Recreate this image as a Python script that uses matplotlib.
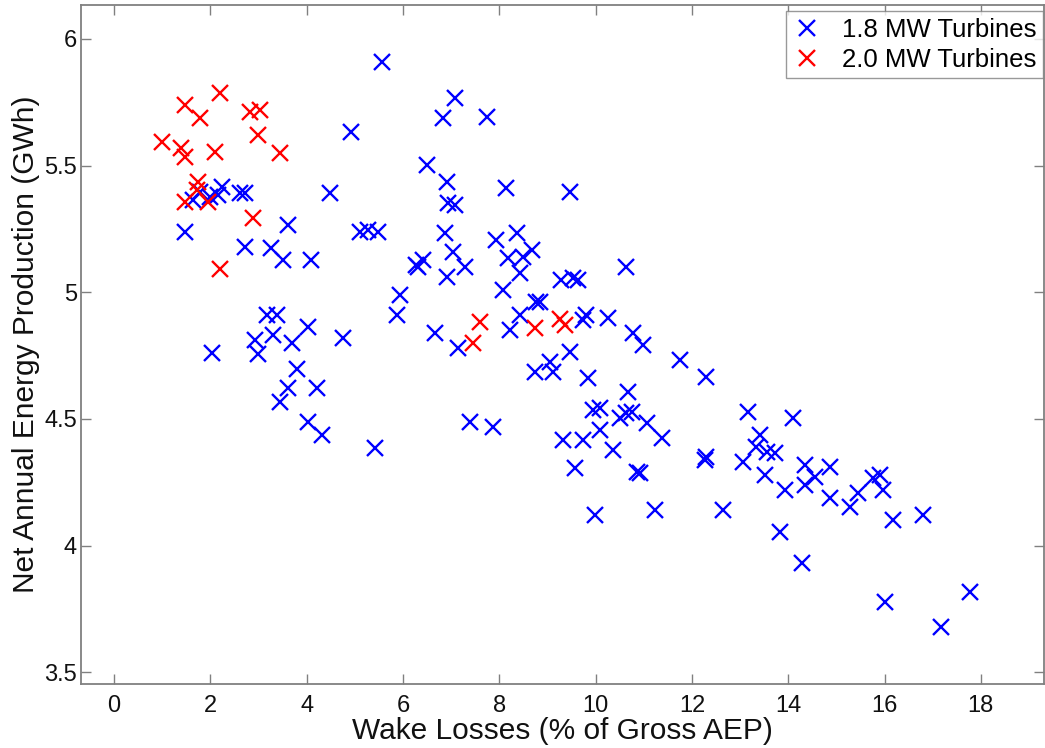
import matplotlib
matplotlib.use("Agg")
import matplotlib.pyplot as plt

# 1.8 MW turbines: wake losses (% of gross AEP), net AEP (GWh)
x18 = [5.56, 4.93, 1.47, 1.65, 1.79, 1.99, 2.17, 2.24, 2.62, 2.72, 4.48, 2.72, 3.27,
       3.62, 3.51, 4.10, 5.11, 5.28, 5.49, 5.94, 5.87, 6.28, 3.17, 3.38, 3.31,
       4.03, 4.76, 2.93, 3.69, 3.00, 2.03, 3.79, 3.62, 4.21, 3.45, 4.03, 4.31, 5.42,
       7.08, 6.84, 7.74, 6.49, 6.91, 8.15, 9.47, 6.94, 7.08, 6.87, 7.94, 8.36, 7.04,
       8.67, 6.42, 6.32, 7.29, 8.19, 8.50, 6.91, 8.43, 8.08, 9.29, 9.54, 9.64, 10.64,
       6.66, 7.15, 8.22, 8.43, 8.77, 8.84, 9.74, 9.81, 10.26, 10.78, 10.99, 9.47, 11.75,
       8.74, 9.05, 9.12, 9.85, 12.30, 10.68, 9.95, 10.09, 10.50, 10.64, 10.75, 11.06,
       10.09, 9.33, 9.74, 11.37, 10.37, 7.39, 7.87, 9.57, 10.85, 10.92, 12.27, 12.30,
       13.06, 9.99, 11.23, 12.65, 13.17, 14.10, 13.41, 13.34, 13.55, 13.72, 13.51,
       13.93, 14.35, 14.35, 14.55, 14.86, 14.86, 15.28, 15.45, 15.76, 15.90, 15.97,
       16.18, 16.80, 13.83, 14.28, 16.00, 17.18, 17.77]
y18 = [5.910, 5.634, 5.239, 5.364, 5.397, 5.377, 5.384, 5.417, 5.391, 5.391, 5.391,
       5.180, 5.174, 5.266, 5.128, 5.128, 5.239, 5.246, 5.239, 4.989, 4.910, 5.108,
       4.910, 4.910, 4.831, 4.864, 4.818, 4.812, 4.799, 4.755, 4.759, 4.696,
       4.621, 4.621, 4.568, 4.489, 4.437, 4.384,
       5.766, 5.687, 5.693, 5.503, 5.437, 5.411, 5.397, 5.351, 5.345, 5.233, 5.207,
       5.233, 5.160, 5.167, 5.128, 5.101, 5.101, 5.134, 5.141, 5.062, 5.075, 5.009,
       5.049, 5.055, 5.049, 5.101, 4.838, 4.779, 4.851, 4.910, 4.963, 4.963, 4.891,
       4.910, 4.897, 4.838, 4.792, 4.766, 4.733, 4.687, 4.726, 4.687, 4.660, 4.667,
       4.608, 4.535, 4.542, 4.503, 4.522, 4.529, 4.483, 4.456, 4.417, 4.417, 4.424,
       4.377, 4.489, 4.469, 4.305, 4.292, 4.285, 4.338, 4.351, 4.331, 4.121, 4.141,
       4.141, 4.529, 4.503, 4.437, 4.390, 4.371, 4.364, 4.279, 4.220, 4.318, 4.239,
       4.272, 4.312, 4.187, 4.154, 4.207, 4.266, 4.279, 4.220, 4.101, 4.121, 4.055,
       3.930, 3.779, 3.680, 3.818]

# 2.0 MW turbines
x20 = [0.99, 1.47, 1.79, 2.20, 1.40, 1.47, 2.10, 2.82, 3.03, 3.00, 3.45, 1.75, 1.72,
       1.47, 1.96, 2.89, 2.20, 7.60, 7.46, 8.74, 9.26, 9.36]
y20 = [5.595, 5.739, 5.687, 5.786, 5.568, 5.535, 5.555, 5.713, 5.720, 5.621, 5.549,
       5.437, 5.404, 5.358, 5.358, 5.292, 5.091, 4.884, 4.801, 4.858, 4.893, 4.871]

labels = ["1.8 MW Turbines", "2.0 MW Turbines"]
xticks = [0, 2, 4, 6, 8, 10, 12, 14, 16, 18]
yticks = [3.5, 4, 4.5, 5, 5.5, 6]
yticklabels = ["3.5", "4", "4.5", "5", "5.5", "6"]

plt.rcParams['font.family'] = ['Liberation Sans', 'DejaVu Sans']

fig = plt.figure(figsize=(10.45, 7.48), dpi=100)
ax = fig.add_axes([0.0775, 0.0856, 0.9215, 0.9077])

ax.plot(x18, y18, linestyle='none', marker='x', color='#0000ff', markersize=12,
        markeredgewidth=1.7, label=labels[0])
ax.plot(x20, y20, linestyle='none', marker='x', color='#ff0000', markersize=12,
        markeredgewidth=1.7, label=labels[1])

ax.set_xlim(-0.685, 19.31)
ax.set_ylim(3.454, 6.134)
ax.set_xticks(xticks)
ax.set_yticks(yticks)
ax.set_yticklabels(yticklabels)

for s in ax.spines.values():
    s.set_color('#808080')
    s.set_linewidth(1.3)
ax.tick_params(direction='in', length=7.2, width=1, color='#808080',
               top=True, right=True, labelsize=17, labelcolor='#111111')
ax.tick_params(axis='x', pad=8)
ax.tick_params(axis='y', pad=3)

ax.set_xlabel("Wake Losses (% of Gross AEP)", fontsize=21.5, color='#111111', labelpad=0)
ax.set_ylabel("Net Annual Energy Production (GWh)", fontsize=21.5, color='#111111', labelpad=3)

leg = ax.legend(loc='upper right', bbox_to_anchor=(0.999, 0.991), borderaxespad=0,
                fontsize=18.5, frameon=True, fancybox=False, edgecolor='#808080',
                handlelength=1.2, handletextpad=0.75, borderpad=0.25,
                labelspacing=0.25, markerscale=1.0)
leg.get_frame().set_linewidth(1.0)

fig.savefig("out.png", dpi=100)
